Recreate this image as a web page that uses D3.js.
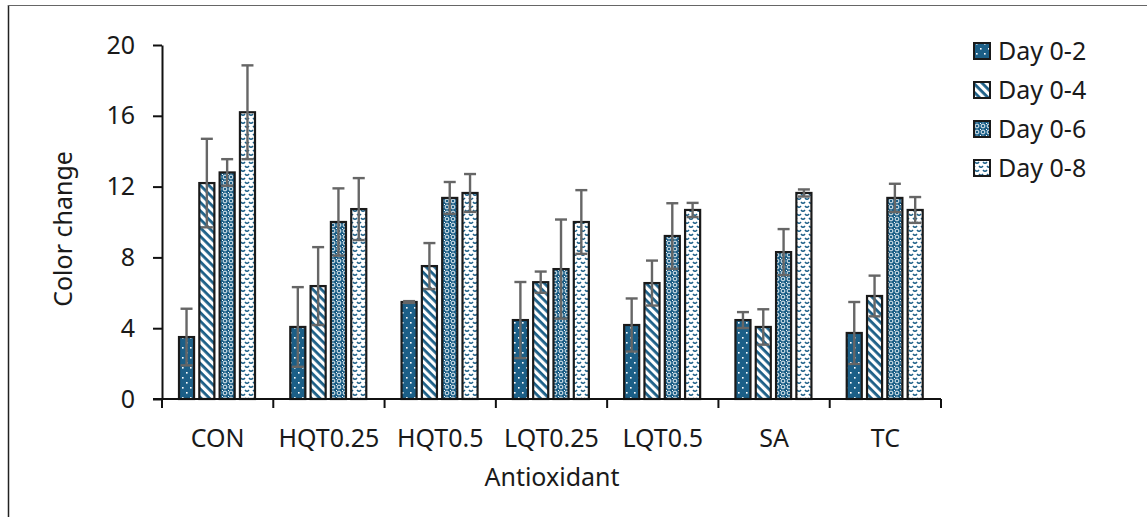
<!DOCTYPE html>
<html>
<head>
<meta charset="utf-8">
<script src="https://cdn.jsdelivr.net/npm/d3@7"></script>
<style>
  html, body { margin: 0; padding: 0; background: #fff; }
  svg { display: block; }
  text { font-family: "Noto Sans", "Open Sans", sans-serif; fill: #1a1a1a; }
</style>
</head>
<body>
<svg id="chart" width="1147" height="517"></svg>
<script>
// Color change per antioxidant treatment, over storage intervals
const categories = ["CON", "HQT0.25", "HQT0.5", "LQT0.25", "LQT0.5", "SA", "TC"];
const series = ["Day 0-2", "Day 0-4", "Day 0-6", "Day 0-8"];

const day02 = [3.5, 4.07, 5.48, 4.46, 4.18, 4.46, 3.73];
const day04 = [12.2, 6.38, 7.51, 6.6, 6.55, 4.07, 5.82];
const day06 = [12.8, 10.0, 11.36, 7.34, 9.21, 8.3, 11.36];
const day08 = [16.2, 10.73, 11.64, 10.0, 10.68, 11.64, 10.68];

const err02 = [1.6, 2.25, 0.05, 2.15, 1.5, 0.45, 1.75];
const err04 = [2.5, 2.2, 1.3, 0.6, 1.27, 1.0, 1.15];
const err06 = [0.75, 1.9, 0.9, 2.8, 1.85, 1.3, 0.8];
const err08 = [2.65, 1.75, 1.07, 1.8, 0.4, 0.2, 0.73];

const yTicks = [0, 4, 8, 12, 16, 20];

const values = [day02, day04, day06, day08];
const errors = [err02, err04, err06, err08];

const rows = [];
categories.forEach((c, i) => {
  series.forEach((s, j) => {
    rows.push({ cat: c, series: s, idx: j, value: values[j][i], err: errors[j][i] });
  });
});

const teal = "#1c5f87";
const fontSize = 25;
const svg = d3.select("#chart");
const defs = svg.append("defs");

// Fill patterns, one per series
const p0 = defs.append("pattern").attr("id", "pat0")
  .attr("patternUnits", "userSpaceOnUse").attr("width", 8).attr("height", 10);
p0.append("rect").attr("width", 8).attr("height", 10).attr("fill", teal);
p0.append("rect").attr("x", 2).attr("y", 2).attr("width", 1.6).attr("height", 1.6).attr("fill", "#fff");
p0.append("rect").attr("x", 6).attr("y", 7).attr("width", 1.6).attr("height", 1.6).attr("fill", "#fff");

const p1 = defs.append("pattern").attr("id", "pat1")
  .attr("patternUnits", "userSpaceOnUse").attr("width", 6).attr("height", 6)
  .attr("patternTransform", "rotate(45)");
p1.append("rect").attr("width", 6).attr("height", 6).attr("fill", "#fff");
p1.append("rect").attr("width", 6).attr("height", 2.8).attr("fill", teal);

const p2 = defs.append("pattern").attr("id", "pat2")
  .attr("patternUnits", "userSpaceOnUse").attr("width", 6).attr("height", 6);
p2.append("rect").attr("width", 6).attr("height", 6).attr("fill", teal);
p2.append("circle").attr("cx", 3).attr("cy", 3).attr("r", 1.9)
  .attr("fill", "none").attr("stroke", "#fff").attr("stroke-width", 0.9);
p2.append("rect").attr("x", 0).attr("y", 0).attr("width", 1).attr("height", 1).attr("fill", "#fff");

const p3 = defs.append("pattern").attr("id", "pat3")
  .attr("patternUnits", "userSpaceOnUse").attr("width", 8).attr("height", 8);
p3.append("rect").attr("width", 8).attr("height", 8).attr("fill", "#fff");
p3.append("path").attr("d", "M1,2 Q3,4.5 5,2").attr("fill", "none")
  .attr("stroke", teal).attr("stroke-width", 1.5);
p3.append("path").attr("d", "M5,6 Q7,8.5 9,6 M-3,6 Q-1,8.5 1,6").attr("fill", "none")
  .attr("stroke", teal).attr("stroke-width", 1.5);

const fills = ["url(#pat0)", "url(#pat1)", "url(#pat2)", "url(#pat3)"];

// Outer frame (left and top edges)
svg.append("line").attr("x1", 8.5).attr("x2", 8.5).attr("y1", 5).attr("y2", 517)
  .attr("stroke", "#222").attr("stroke-width", 1.5);
svg.append("line").attr("x1", 8).attr("x2", 1147).attr("y1", 5.5).attr("y2", 5.5)
  .attr("stroke", "#666").attr("stroke-width", 1.2);

const plotLeft = 162, plotRight = 941, plotTop = 45, plotBottom = 399;

const x0 = d3.scaleBand().domain(categories).range([plotLeft, plotRight]).padding(0);
const x1 = d3.scaleBand().domain(series).range([16, 94]).paddingInner(0.16);
const y = d3.scaleLinear().domain([0, 20]).range([plotBottom, plotTop]);

// Bars
const bars = svg.append("g");
bars.selectAll("rect").data(rows).join("rect")
  .attr("x", d => x0(d.cat) + x1(d.series) + 1)
  .attr("y", d => y(d.value))
  .attr("width", x1.bandwidth() - 2)
  .attr("height", d => y(0) - y(d.value))
  .attr("fill", d => fills[d.idx])
  .attr("stroke", "#1a1a1a")
  .attr("stroke-width", 2.2);

// Error bars
const eb = svg.append("g").attr("stroke", "#666").attr("stroke-width", 2.4);
const cx = d => x0(d.cat) + x1(d.series) + x1.bandwidth() / 2;
eb.selectAll("line.v").data(rows).join("line").attr("class", "v")
  .attr("x1", cx).attr("x2", cx)
  .attr("y1", d => y(d.value - d.err)).attr("y2", d => y(d.value + d.err));
eb.selectAll("line.t").data(rows).join("line").attr("class", "t")
  .attr("x1", d => cx(d) - 6).attr("x2", d => cx(d) + 6)
  .attr("y1", d => y(d.value + d.err)).attr("y2", d => y(d.value + d.err));
eb.selectAll("line.b").data(rows).join("line").attr("class", "b")
  .attr("x1", d => cx(d) - 6).attr("x2", d => cx(d) + 6)
  .attr("y1", d => y(d.value - d.err)).attr("y2", d => y(d.value - d.err));

// Y axis
const yAxis = svg.append("g").attr("transform", `translate(${plotLeft},0)`)
  .call(d3.axisLeft(y).tickValues(yTicks).tickSize(9).tickPadding(18).tickSizeOuter(0));
yAxis.select(".domain").attr("stroke", "#111").attr("stroke-width", 2);
yAxis.selectAll(".tick line").attr("stroke", "#111").attr("stroke-width", 2);
yAxis.selectAll(".tick text").attr("font-size", fontSize).attr("fill", "#1a1a1a")
  .style("font-family", '"Noto Sans", sans-serif');

// X axis: baseline with ticks at group boundaries
const xg = svg.append("g");
xg.append("line").attr("x1", plotLeft - 9).attr("x2", plotRight)
  .attr("y1", plotBottom).attr("y2", plotBottom)
  .attr("stroke", "#111").attr("stroke-width", 2);
const boundaries = categories.map(c => x0(c)).concat([x0(categories[categories.length - 1]) + x0.bandwidth()]);
xg.selectAll("line.tk").data(boundaries).join("line").attr("class", "tk")
  .attr("x1", d => d).attr("x2", d => d)
  .attr("y1", plotBottom).attr("y2", plotBottom + 9)
  .attr("stroke", "#111").attr("stroke-width", 2);
xg.selectAll("text").data(categories).join("text")
  .attr("x", d => x0(d) + x0.bandwidth() / 2)
  .attr("y", 447)
  .attr("text-anchor", "middle")
  .attr("font-size", fontSize)
  .text(d => d);

// Axis titles
svg.append("text").attr("x", 552).attr("y", 486)
  .attr("text-anchor", "middle").attr("font-size", fontSize).text("Antioxidant");
svg.append("text").attr("transform", "translate(72,229) rotate(-90)")
  .attr("text-anchor", "middle").attr("font-size", fontSize).text("Color change");

// Legend
const legend = svg.append("g");
const lg = legend.selectAll("g").data(series).join("g")
  .attr("transform", (d, i) => `translate(974, ${51 + i * 39})`);
lg.append("rect").attr("x", 0).attr("y", -8).attr("width", 16).attr("height", 16)
  .attr("fill", (d, i) => fills[i]).attr("stroke", "#1a1a1a").attr("stroke-width", 2);
lg.append("text").attr("x", 24).attr("y", 0).attr("dy", "0.35em")
  .attr("font-size", fontSize).text(d => d);
</script>
</body>
</html>
